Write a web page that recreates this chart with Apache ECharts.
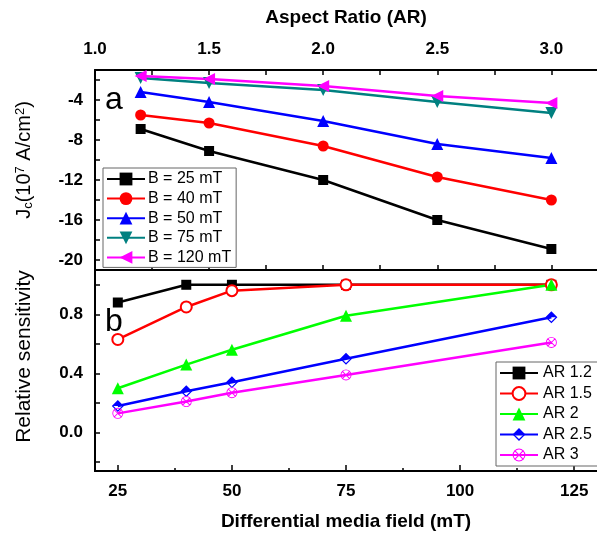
<!DOCTYPE html>
<html>
<head>
<meta charset="utf-8">
<script src="https://cdn.jsdelivr.net/npm/echarts@6/dist/echarts.min.js"></script>
<style>
  html, body { margin: 0; padding: 0; background: #fff; }
  #chart { width: 597px; height: 534px; }
</style>
</head>
<body>
<div id="chart"></div>
<script>
// Panel a: critical current density vs aspect ratio
const aspectRatios = [1.2, 1.5, 2.0, 2.5, 3.0];
const jcB25 = [-6.9, -9.1, -12.0, -16.0, -18.9];
const jcB40 = [-5.5, -6.3, -8.6, -11.7, -14.0];
const jcB50 = [-3.2, -4.2, -6.1, -8.4, -9.8];
const jcB75 = [-1.8, -2.3, -3.0, -4.2, -5.3];
const jcB120 = [-1.6, -1.9, -2.6, -3.6, -4.3];

// Panel b: relative sensitivity vs differential media field
const fields = [25, 40, 50, 75, 120];
const sensAR12 = [0.88, 1.0, 1.0, 1.0, 1.0];
const sensAR15 = [0.63, 0.85, 0.96, 1.0, 1.0];
const sensAR2 = [0.30, 0.46, 0.56, 0.79, 1.0];
const sensAR25 = [0.18, 0.28, 0.34, 0.50, 0.78];
const sensAR3 = [0.13, 0.21, 0.27, 0.39, 0.61];

// Tick positions and labels
const arTicks = [1.0, 1.25, 1.5, 1.75, 2.0, 2.25, 2.5, 2.75, 3.0];
const arLabels = [1.0, 1.5, 2.0, 2.5, 3.0];
const jcTicks = [-20, -18, -16, -14, -12, -10, -8, -6, -4, -2];
const jcLabels = [-4, -8, -12, -16, -20];
const fieldMajorTicks = [25, 50, 75, 100, 125];
const fieldMinorTicks = [37.5, 62.5, 87.5, 112.5];
const sensTicks = [-0.2, 0, 0.2, 0.4, 0.6, 0.8, 1.0];
const sensLabels = [0, 0.4, 0.8];

const FONT = 'Liberation Sans, Arial, sans-serif';

// half-filled diamond: solid upper triangle, outlined lower half
const halfDiamond = 'path://M0 10L10 0L20 10ZM0 10L10 20L20 10L17.2 10L10 17.2L2.8 10Z';
// circle outline with a cross inside
const crossCircle = 'path://M0 10A10 10 0 0 1 20 10A10 10 0 0 1 0 10Z' +
  'M1.6 10A8.4 8.4 0 0 0 18.4 10A8.4 8.4 0 0 0 1.6 10Z' +
  'M3.54 2.26L17.74 16.46L16.46 17.74L2.26 3.54Z' +
  'M17.74 3.54L3.54 17.74L2.26 16.46L16.46 2.26Z';

function pairs(xs, ys) { return xs.map((x, i) => [x, ys[i]]); }

function lineSeries(name, xIdx, yIdx, xs, ys, color, symbol, size, extra) {
  return Object.assign({
    name: name,
    type: 'line',
    xAxisIndex: xIdx,
    yAxisIndex: yIdx,
    data: pairs(xs, ys),
    symbol: symbol,
    symbolSize: size,
    showAllSymbol: true,
    lineStyle: { color: color, width: 2.5 },
    itemStyle: { color: color },
    emphasis: { disabled: true },
    animation: false
  }, extra || {});
}

const axisLineStyle = { show: true, onZero: false, lineStyle: { color: '#000', width: 2 } };
const tickLabelStyle = { color: '#000', fontSize: 17, fontWeight: 'bold', fontFamily: FONT };
const axisTitleStyle = { color: '#000', fontSize: 19, fontWeight: 'bold', fontFamily: FONT };

const chart = echarts.init(document.getElementById('chart'), null, { renderer: 'canvas' });

chart.setOption({
  backgroundColor: '#fff',
  animation: false,
  grid: [
    { left: 95, top: 70, width: 506, height: 200 },
    { left: 95, top: 270, width: 506, height: 201 }
  ],
  xAxis: [
    {
      gridIndex: 0, type: 'value', position: 'top', min: 1.0, max: 3.2,
      name: 'Aspect Ratio (AR)', nameLocation: 'middle', nameGap: 43,
      nameTextStyle: axisTitleStyle,
      axisLine: axisLineStyle,
      axisTick: { show: true, inside: true, length: 5, lineStyle: { color: '#000', width: 1.5 }, customValues: arTicks },
      axisLabel: Object.assign({ customValues: arLabels, margin: 12, formatter: v => v.toFixed(1) }, tickLabelStyle),
      splitLine: { show: false }
    },
    {
      gridIndex: 0, type: 'value', position: 'bottom', min: 1.0, max: 3.2,
      axisLine: axisLineStyle,
      axisTick: { show: true, inside: true, length: 5, lineStyle: { color: '#000', width: 1.5 }, customValues: arTicks },
      axisLabel: { show: false },
      splitLine: { show: false }
    },
    {
      gridIndex: 1, type: 'value', position: 'bottom', min: 20, max: 130,
      name: 'Differential media field (mT)', nameLocation: 'middle', nameGap: 41,
      nameTextStyle: axisTitleStyle,
      axisLine: axisLineStyle,
      axisTick: { show: true, inside: true, length: 6, lineStyle: { color: '#000', width: 1.5 }, customValues: fieldMajorTicks },
      axisLabel: Object.assign({ customValues: fieldMajorTicks, margin: 12 }, tickLabelStyle),
      splitLine: { show: false }
    },
    {
      gridIndex: 1, type: 'value', position: 'bottom', min: 20, max: 130,
      axisLine: axisLineStyle,
      axisTick: { show: true, inside: true, length: 3, lineStyle: { color: '#000', width: 1.5 }, customValues: fieldMinorTicks },
      axisLabel: { show: false },
      splitLine: { show: false }
    }
  ],
  yAxis: [
    {
      gridIndex: 0, type: 'value', min: -21, max: -1,
      name: 'J{sub|c}(10{sup|7} A/cm{sup|2})', nameLocation: 'middle', nameGap: 60, nameRotate: 90,
      nameTextStyle: {
        color: '#000', fontSize: 20, fontFamily: FONT, padding: [0, 0, 0, 20],
        rich: {
          sub: { fontSize: 13, fontFamily: FONT, color: '#000', verticalAlign: 'bottom', padding: [8, 0, 0, 0] },
          sup: { fontSize: 13, fontFamily: FONT, color: '#000', verticalAlign: 'top', padding: [0, 0, 8, 0] }
        }
      },
      axisLine: axisLineStyle,
      axisTick: { show: true, inside: true, length: 5, lineStyle: { color: '#000', width: 1.5 }, customValues: jcTicks },
      axisLabel: Object.assign({ customValues: jcLabels, margin: 12 }, tickLabelStyle),
      splitLine: { show: false }
    },
    {
      gridIndex: 1, type: 'value', min: -0.26, max: 1.1,
      name: 'Relative sensitivity', nameLocation: 'middle', nameGap: 60, nameRotate: 90,
      nameTextStyle: { color: '#000', fontSize: 21, fontFamily: FONT, padding: [0, 0, 0, 28] },
      axisLine: axisLineStyle,
      axisTick: { show: true, inside: true, length: 5, lineStyle: { color: '#000', width: 1.5 }, customValues: sensTicks },
      axisLabel: Object.assign({ customValues: sensLabels, margin: 12, formatter: v => v.toFixed(1) }, tickLabelStyle),
      splitLine: { show: false }
    }
  ],
  legend: [
    {
      orient: 'vertical', left: 103, top: 168,
      data: ['B = 25 mT', 'B = 40 mT', 'B = 50 mT', 'B = 75 mT', 'B = 120 mT'],
      itemWidth: 38, itemHeight: 16, itemGap: 3.6,
      padding: [3, 5, 2, 3],
      backgroundColor: '#fff', borderColor: '#666', borderWidth: 1,
      textStyle: { color: '#000', fontSize: 16, lineHeight: 16, fontFamily: FONT, padding: [0, 0, 0, -2] }
    },
    {
      orient: 'vertical', left: 496, top: 362,
      data: ['AR 1.2', 'AR 1.5', 'AR 2', 'AR 2.5', 'AR 3'],
      itemWidth: 38, itemHeight: 16, itemGap: 4.5,
      padding: [3, 40, 3, 3],
      backgroundColor: '#fff', borderColor: '#666', borderWidth: 1,
      textStyle: { color: '#000', fontSize: 16, lineHeight: 16, fontFamily: FONT }
    }
  ],
  graphic: [
    { type: 'text', style: { text: 'a', x: 114, y: 100, font: '32px ' + FONT, fill: '#000', align: 'center', verticalAlign: 'middle' }, z: 100 },
    { type: 'text', style: { text: 'b', x: 114, y: 322, font: '32px ' + FONT, fill: '#000', align: 'center', verticalAlign: 'middle' }, z: 100 }
  ],
  series: [
    lineSeries('B = 25 mT', 0, 0, aspectRatios, jcB25, '#000000', 'rect', 10),
    lineSeries('B = 40 mT', 0, 0, aspectRatios, jcB40, '#ff0000', 'circle', 11),
    lineSeries('B = 50 mT', 0, 0, aspectRatios, jcB50, '#0000ff', 'triangle', 12),
    lineSeries('B = 75 mT', 0, 0, aspectRatios, jcB75, '#008080', 'triangle', 12, { symbolRotate: 180 }),
    lineSeries('B = 120 mT', 0, 0, aspectRatios, jcB120, '#ff00ff', 'triangle', 12, { symbolRotate: 90 }),

    lineSeries('AR 1.2', 2, 1, fields, sensAR12, '#000000', 'rect', 10),
    lineSeries('AR 1.5', 2, 1, fields, sensAR15, '#ff0000', 'emptyCircle', 11),
    lineSeries('AR 2', 2, 1, fields, sensAR2, '#00ff00', 'triangle', 12),
    lineSeries('AR 2.5', 2, 1, fields, sensAR25, '#0000ff', halfDiamond, 12),
    lineSeries('AR 3', 2, 1, fields, sensAR3, '#ff00ff', crossCircle, 11)
  ]
});
</script>
</body>
</html>
